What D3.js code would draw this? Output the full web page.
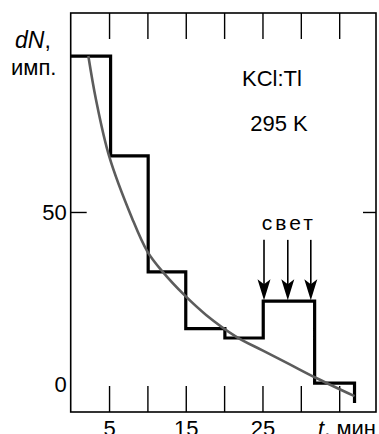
<!DOCTYPE html>
<html>
<head>
<meta charset="utf-8">
<script src="https://cdn.jsdelivr.net/npm/d3@7"></script>
<style>
  html, body { margin: 0; padding: 0; background: #fff; }
  svg { display: block; font-family: "Liberation Sans", Arial, sans-serif; }
</style>
</head>
<body>
<svg id="chart" width="379" height="434"></svg>
<script>
// ---- data ----
const binEdges = [0, 5.2, 10.1, 15, 20.1, 25.1, 31.8, 37];
const binCounts = [95.3, 66.3, 32.6, 16.1, 13.4, 24.1, 0.3];
const histEndValue = -5.5;
const curveT = [2.3, 3.3, 5.0, 8.0, 10.0, 12.0, 14.8, 17.65, 21.6, 25.0, 28.5, 31.8, 37.0];
const curveV = [95.3, 82.6, 66.3, 48.2, 38.5, 32.6, 25.9, 20.1, 13.75, 9.8, 5.8, 2.0, -3.5];
const lightTimes = [25.2, 28.3, 31.3];
const xTicks = [5, 10, 15, 20, 25, 30, 35];
const xTickLabels = ["5", "", "15", "", "25", "", ""];
const yTicks = [0, 50];
const yTickLabels = ["0", "50"];

// ---- layout ----
const svg = d3.select("#chart");
const x = d3.scaleLinear().domain([0, 39.8]).range([70.7, 376]);
const y = d3.scaleLinear().domain([-8.1, 107.8]).range([412, 13]);
const font = 22;

// frame
svg.append("rect")
  .attr("x", x(0)).attr("y", y(107.8))
  .attr("width", x(39.8) - x(0)).attr("height", y(-8.1) - y(107.8))
  .attr("fill", "none").attr("stroke", "#000").attr("stroke-width", 1.6);

// bottom axis (ticks pointing up, labels below)
const gB = svg.append("g").attr("transform", `translate(0,${y(-8.1)})`)
  .call(d3.axisBottom(x).tickValues(xTicks).tickSize(-26).tickPadding(8)
    .tickFormat((d, i) => xTickLabels[i]));
// top axis (ticks pointing down, no labels)
const gT = svg.append("g").attr("transform", `translate(0,${y(107.8)})`)
  .call(d3.axisBottom(x).tickValues(xTicks).tickSize(26).tickFormat(""));
// left axis
const gL = svg.append("g").attr("transform", `translate(${x(0)},0)`)
  .call(d3.axisLeft(y).tickValues(yTicks).tickSize(-16).tickPadding(4)
    .tickFormat((d, i) => yTickLabels[i]));
gL.selectAll(".tick").filter(d => d === 0).select("line").remove();
// right axis tick
const gR = svg.append("g").attr("transform", `translate(${x(39.8)},0)`)
  .call(d3.axisRight(y).tickValues([50]).tickSize(-13).tickFormat(""));

[gB, gT, gL, gR].forEach(g => {
  g.select(".domain").remove();
  g.selectAll(".tick line").attr("stroke", "#000").attr("stroke-width", 1.4);
  g.selectAll(".tick text").attr("font-size", font).attr("fill", "#000")
    .attr("font-family", "'Liberation Sans', Arial, sans-serif");
});

// histogram
const histPts = [];
binCounts.forEach((v, i) => {
  histPts.push([binEdges[i], v]);
  histPts.push([binEdges[i + 1], v]);
});
histPts.push([binEdges[binEdges.length - 1], histEndValue]);
svg.append("path")
  .attr("d", d3.line().x(d => x(d[0])).y(d => y(d[1]))(histPts))
  .attr("fill", "none").attr("stroke", "#000").attr("stroke-width", 3.2)
  .attr("stroke-linejoin", "miter");

// fitted curve
const curvePts = curveT.map((t, i) => [t, curveV[i]]);
svg.append("path")
  .attr("d", d3.line().x(d => x(d[0])).y(d => y(d[1])).curve(d3.curveCatmullRom)(curvePts))
  .attr("fill", "none").attr("stroke", "#5c5c5c").attr("stroke-width", 2.6);

// light arrows
const lightVal = binCounts[5];
lightTimes.forEach(t => {
  const xt = x(t), yTip = y(lightVal) - 1, yTop = y(41.9);
  svg.append("line").attr("x1", xt).attr("x2", xt).attr("y1", yTop).attr("y2", yTip - 14)
    .attr("stroke", "#000").attr("stroke-width", 1.6);
  svg.append("path")
    .attr("d", `M${xt - 6.5},${yTip - 21} L${xt},${yTip - 16} L${xt + 6.5},${yTip - 21} L${xt},${yTip} Z`)
    .attr("fill", "#000");
});
svg.append("text")
  .attr("x", x(lightTimes[1]) + 1).attr("y", y(41.9) - 10)
  .attr("text-anchor", "middle").attr("font-size", 21).attr("letter-spacing", 3)
  .text("свет");

// labels
svg.append("text").attr("x", 15).attr("y", 48).attr("font-size", 23)
  .html('<tspan font-style="italic">dN</tspan>,');
svg.append("text").attr("x", 11).attr("y", 75).attr("font-size", 22).text("имп.");
svg.append("text").attr("x", 272).attr("y", 86).attr("text-anchor", "middle")
  .attr("font-size", 22).text("KCl:Tl");
svg.append("text").attr("x", 279).attr("y", 131).attr("text-anchor", "middle")
  .attr("font-size", 22).text("295 K");
svg.append("text").attr("x", x(39.8)).attr("y", y(-8.1) + 8).attr("dy", "0.71em")
  .attr("text-anchor", "end").attr("font-size", font)
  .html('<tspan font-style="italic">t</tspan>, мин');
</script>
</body>
</html>
